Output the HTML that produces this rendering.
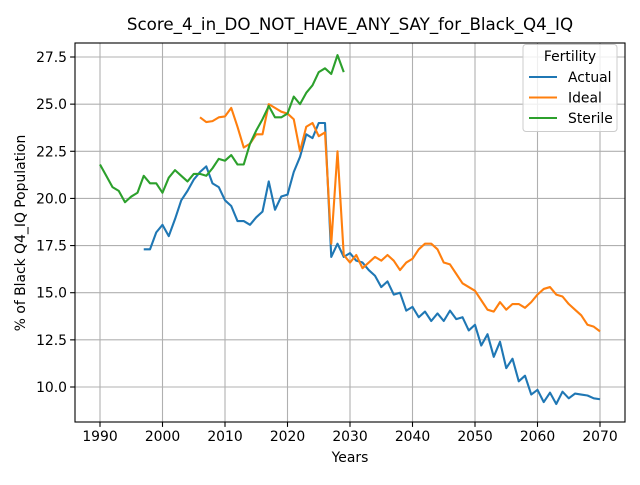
<!DOCTYPE html>
<html><head><meta charset="utf-8"><style>
body{margin:0;background:#fff;font-family:"Liberation Sans","DejaVu Sans",sans-serif}
svg text{font-family:"DejaVu Sans","Liberation Sans",sans-serif;fill:#000}
</style></head><body>
<svg id="chart" width="640" height="480" xmlns="http://www.w3.org/2000/svg">
<rect width="640" height="480" fill="#fff"/>
<text x="350" y="30" font-size="16.7" text-anchor="middle">Score_4_in_DO_NOT_HAVE_ANY_SAY_for_Black_Q4_IQ</text>
<g id="grid"></g><g id="series"></g><g id="axes"></g>
<text x="350" y="462" font-size="13.9" text-anchor="middle">Years</text>
<text transform="translate(25,233) rotate(-90)" font-size="13.9" text-anchor="middle">% of Black Q4_IQ Population</text>
<g id="legend"></g>
</svg>
<script>
const xTicks=[1990,2000,2010,2020,2030,2040,2050,2060,2070];
const yTicks=[10.0,12.5,15.0,17.5,20.0,22.5,25.0,27.5];
const actualStart=1997;
const actual=[17.3,17.3,18.2,18.6,18.0,18.9,19.9,20.4,21.0,21.4,21.7,20.8,20.6,19.9,19.6,18.8,18.8,18.6,19.0,19.3,20.9,19.4,20.1,20.2,21.4,22.2,23.4,23.2,24.0,24.0,16.9,17.6,16.9,17.1,16.7,16.6,16.2,15.9,15.3,15.6,14.9,15.0,14.05,14.25,13.7,14.0,13.5,13.9,13.5,14.05,13.6,13.7,13.0,13.3,12.2,12.8,11.6,12.4,11.0,11.5,10.3,10.6,9.6,9.85,9.2,9.7,9.1,9.75,9.4,9.65,9.6,9.55,9.4,9.35];
const idealStart=2006;
const ideal=[24.3,24.05,24.1,24.3,24.35,24.8,23.8,22.7,22.9,23.4,23.4,25.0,24.8,24.6,24.5,24.2,22.5,23.8,24.0,23.3,23.5,17.6,22.5,17.0,16.6,17.0,16.3,16.6,16.9,16.7,17.0,16.7,16.2,16.6,16.8,17.3,17.6,17.6,17.3,16.6,16.5,16.0,15.5,15.3,15.1,14.6,14.1,14.0,14.5,14.1,14.4,14.4,14.2,14.5,14.9,15.2,15.3,14.9,14.8,14.4,14.1,13.8,13.3,13.2,12.95];
const sterileStart=1990;
const sterile=[21.8,21.2,20.6,20.4,19.8,20.1,20.3,21.2,20.8,20.8,20.3,21.1,21.5,21.2,20.9,21.3,21.3,21.2,21.6,22.1,22.0,22.3,21.8,21.8,22.9,23.6,24.2,24.9,24.3,24.3,24.5,25.4,25.0,25.6,26.0,26.7,26.9,26.6,27.6,26.7];
const seriesNames=["Actual","Ideal","Sterile"];
const colors=["#1f77b4","#ff7f0e","#2ca02c"];

const L=75,R=625,T=43,B=422;
const X=y=>100+(y-1990)*6.25;
const Y=v=>387-(v-10)*(330/17.5);
const NS="http://www.w3.org/2000/svg";
function mk(t,a,p){const e=document.createElementNS(NS,t);for(const k in a)e.setAttribute(k,a[k]);p.appendChild(e);return e;}
const grid=document.getElementById('grid'),axes=document.getElementById('axes'),ser=document.getElementById('series'),leg=document.getElementById('legend');
xTicks.forEach(t=>{
 const g=mk('line',{x1:X(t),x2:X(t),y1:T,y2:B,stroke:'#b0b0b0','stroke-width':1.1},grid);
 
 mk('line',{x1:X(t),x2:X(t),y1:B,y2:B+4.9,stroke:'#000','stroke-width':1.1},axes);
 const tx=mk('text',{x:X(t),y:B+19,'font-size':13.9,'text-anchor':'middle'},axes);tx.textContent=t;
 
});
yTicks.forEach(t=>{
 const g=mk('line',{x1:L,x2:R,y1:Y(t),y2:Y(t),stroke:'#b0b0b0','stroke-width':1.1},grid);
 
 mk('line',{x1:L-4.9,x2:L,y1:Y(t),y2:Y(t),stroke:'#000','stroke-width':1.1},axes);
 const tx=mk('text',{x:L-8,y:Y(t)+5,'font-size':13.9,'text-anchor':'end'},axes);tx.textContent=t.toFixed(1);
 
});
const fr=mk('rect',{x:L,y:T,width:R-L,height:B-T,fill:'none',stroke:'#000','stroke-width':1.1},axes);

[[actual,actualStart],[ideal,idealStart],[sterile,sterileStart]].forEach((s,i)=>{
 const pts=s[0].map((v,j)=>X(s[1]+j).toFixed(2)+','+Y(v).toFixed(2)).join(' ');
 const p=mk('polyline',{points:pts,fill:'none',stroke:colors[i],'stroke-width':2.1,'stroke-linejoin':'round'},ser);
 
 
});
mk('rect',{x:523,y:44.5,width:94,height:87,rx:3,fill:'#fff','fill-opacity':0.8,stroke:'#ccc','stroke-width':1},leg);
const lt=mk('text',{x:570,y:61,'font-size':13.9,'text-anchor':'middle'},leg);lt.textContent='Fertility';

seriesNames.forEach((n,i)=>{
 const yy=77+i*20.5;
 mk('line',{x1:529,x2:557,y1:yy,y2:yy,stroke:colors[i],'stroke-width':2.1},leg);
 const t=mk('text',{x:568,y:yy+5,'font-size':13.9},leg);t.textContent=n;
 
 
});
</script>
</body></html>
